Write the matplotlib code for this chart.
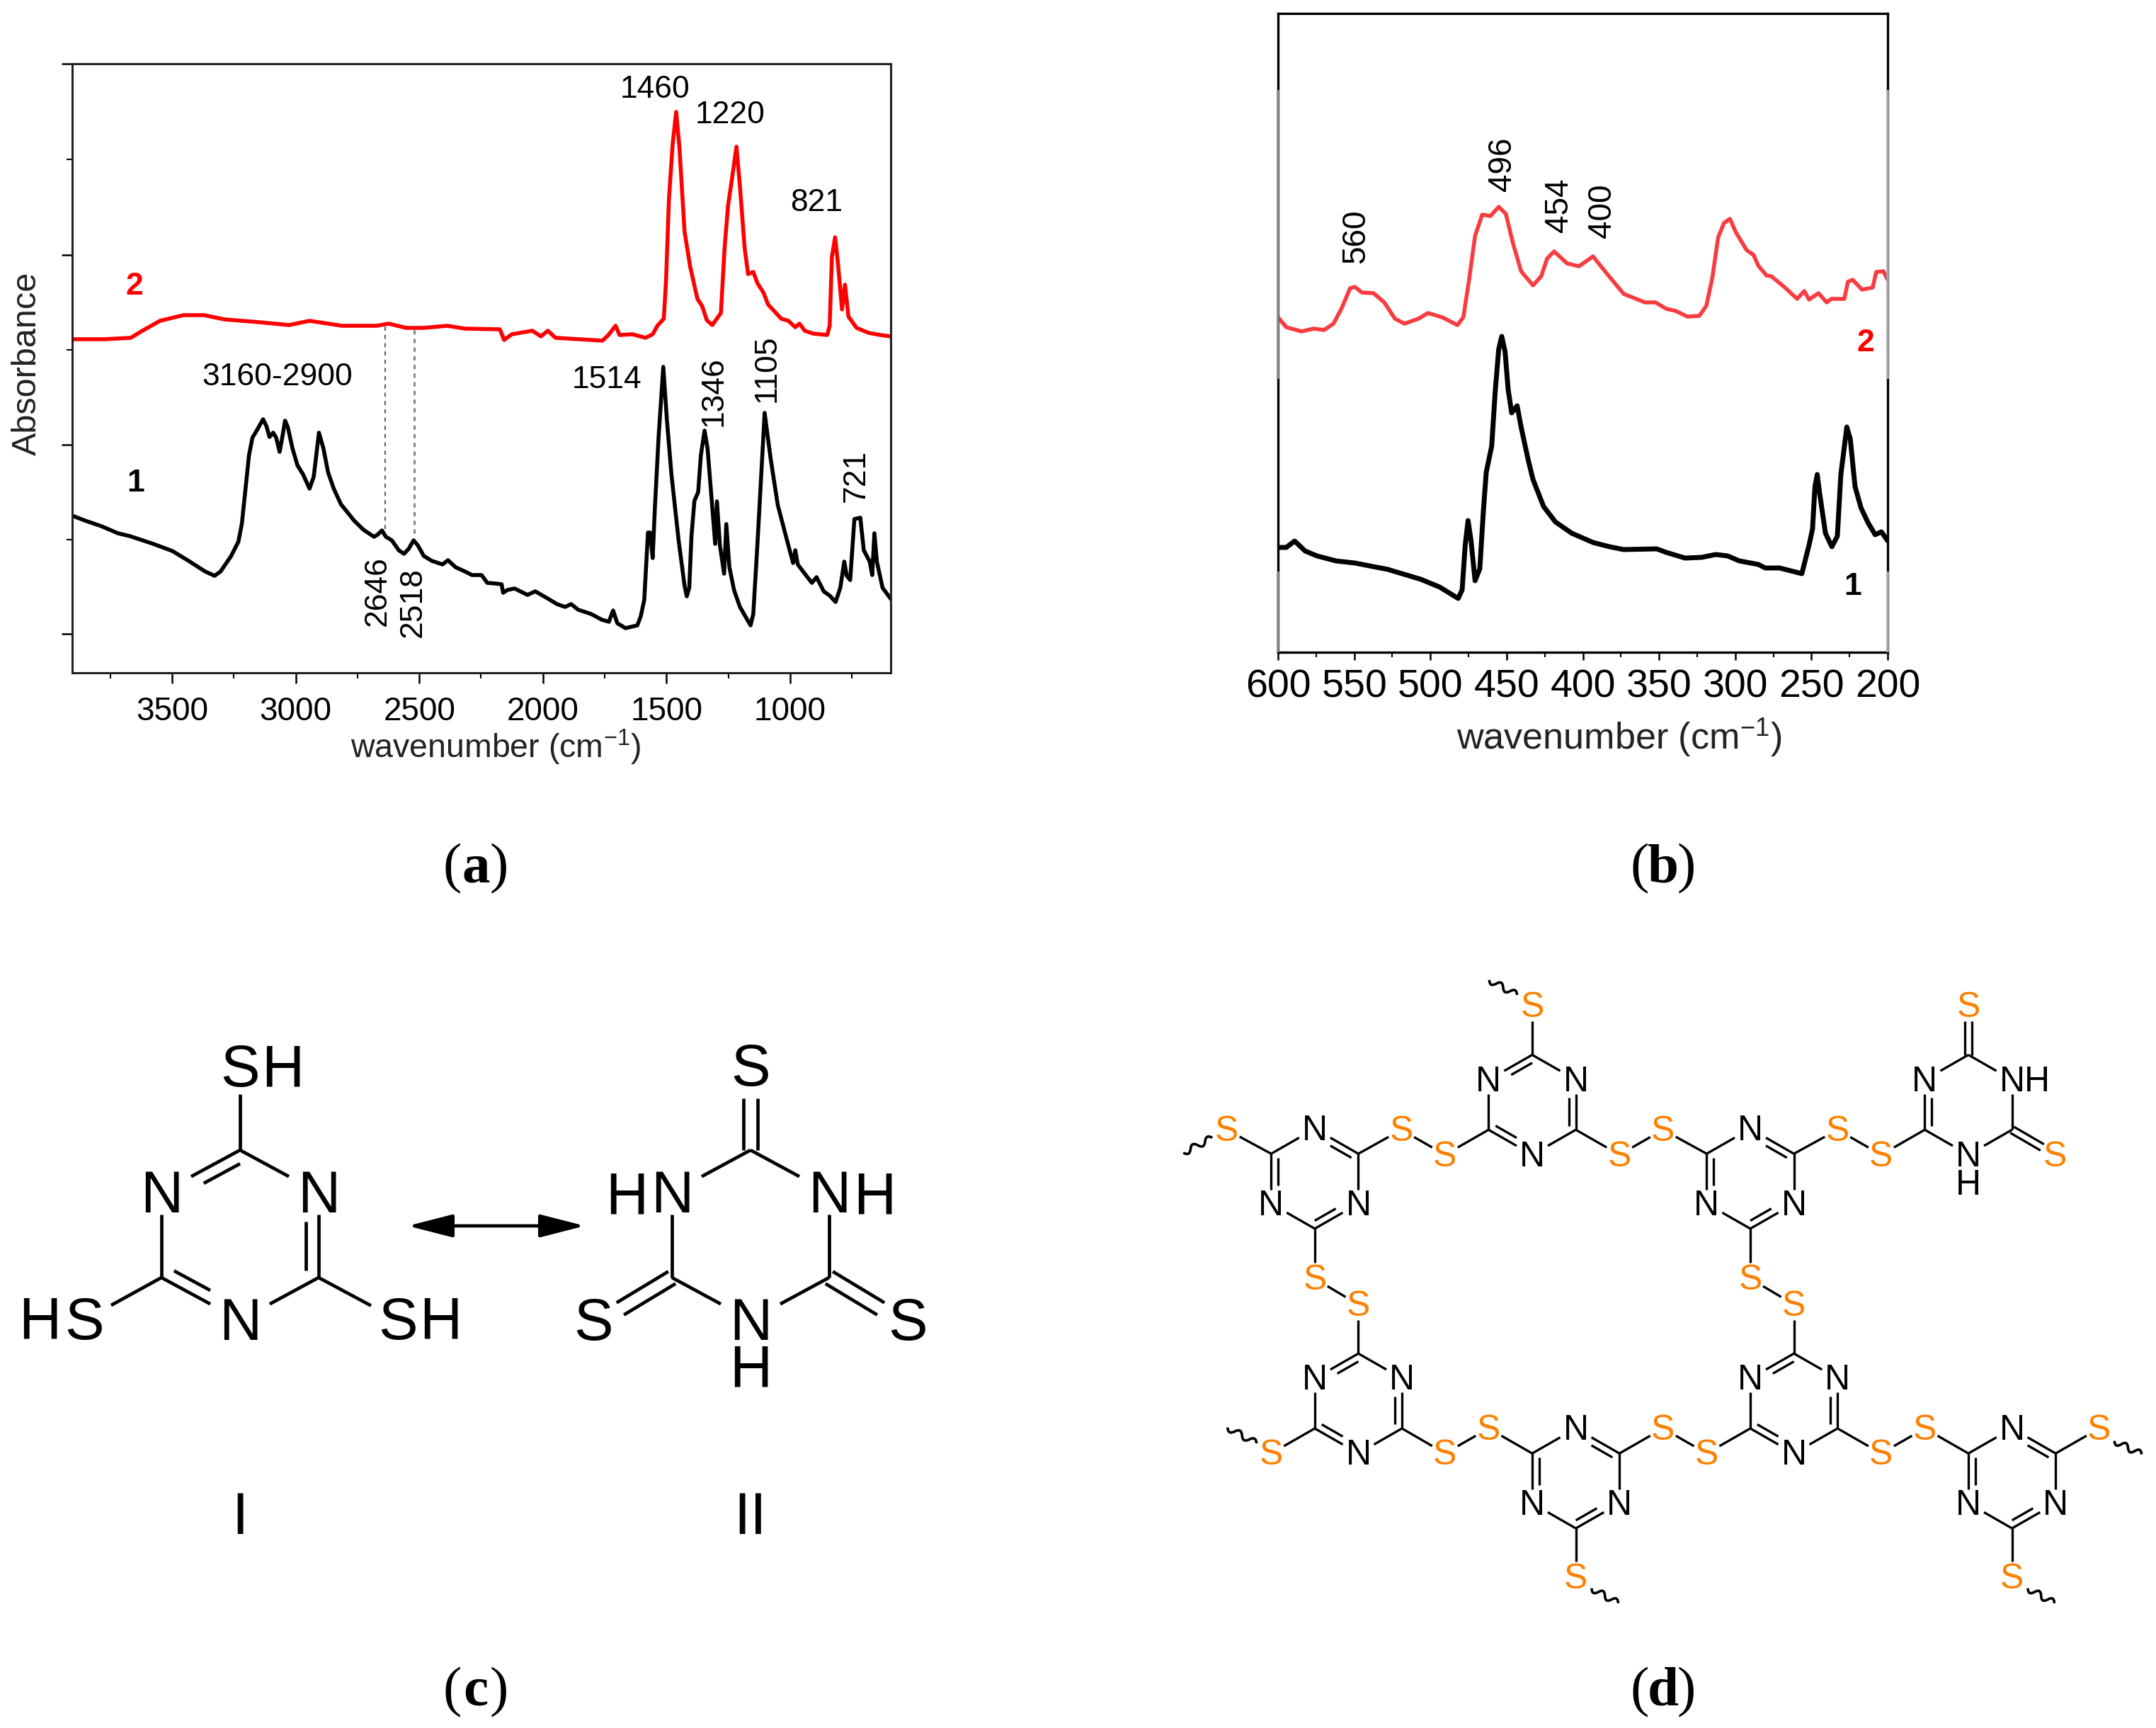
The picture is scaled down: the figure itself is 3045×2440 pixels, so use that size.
import numpy as np
import matplotlib
matplotlib.use("Agg")
from matplotlib import pyplot as plt
from matplotlib.path import Path
from matplotlib.patches import PathPatch

plt.rcParams['font.family'] = ['Liberation Sans', 'DejaVu Sans']
plt.rcParams['mathtext.fontset'] = 'custom'
plt.rcParams['mathtext.rm'] = 'Liberation Sans'
plt.rcParams['mathtext.default'] = 'regular'

# panel (a): IR spectra, wavenumber / absorbance (arb. units)
ir1_wn = [3905, 3853, 3786, 3719, 3671, 3576, 3499, 3433, 3366, 3328, 3304, 3261, 3232, 3218, 3205, 3189, 3175, 3156,
          3132, 3118, 3106, 3091, 3079, 3065, 3054, 3043, 3032, 3013, 2993, 2970, 2944, 2927, 2906, 2888, 2869, 2846,
          2817, 2764, 2726, 2683, 2669, 2651, 2635, 2611, 2583, 2562, 2543, 2523, 2506, 2482, 2449, 2406, 2384, 2353,
          2315, 2287, 2248, 2225, 2191, 2167, 2161, 2143, 2115, 2062, 2031, 1981, 1943, 1910, 1886, 1857, 1805, 1762,
          1733, 1716, 1699, 1666, 1618, 1604, 1590, 1580, 1575, 1566, 1556, 1547, 1532, 1513, 1499, 1480, 1451, 1427,
          1418, 1408, 1399, 1387, 1372, 1361, 1346, 1334, 1321, 1303, 1296, 1284, 1267, 1258, 1246, 1227, 1203, 1160,
          1149, 1132, 1103, 1079, 1050, 1017, 988, 979, 969, 941, 912, 893, 864, 840, 816, 797, 781, 771, 757, 740,
          716, 702, 678, 668, 659, 649, 626, 594]
ir1_abs = [222, 215, 207, 197, 193, 182, 172, 158, 143, 137, 143, 165, 185, 210, 253, 307, 332, 343,
           358, 348, 333, 339, 332, 312, 333, 356, 347, 317, 293, 280, 260, 277, 339, 317, 283, 260,
           238, 215, 202, 192, 195, 201, 192, 187, 173, 168, 175, 187, 180, 165, 158, 153, 159, 149,
           143, 138, 138, 127, 126, 125, 113, 117, 119, 110, 115, 105, 97, 93, 97, 89, 83, 75,
           72, 88, 70, 63, 67, 80, 103, 167, 198, 198, 162, 233, 333, 432, 360, 280, 187, 123,
           108, 120, 193, 243, 255, 307, 342, 317, 260, 182, 242, 180, 140, 210, 150, 117, 93, 67,
           83, 183, 367, 303, 237, 193, 155, 173, 153, 140, 127, 135, 115, 109, 100, 120, 157, 137, 131, 217,
           219, 173, 157, 138, 197, 157, 120, 105]
ir2_wn = [3904, 3774, 3667, 3620, 3549, 3454, 3371, 3288, 3146, 3027, 2944, 2813, 2672, 2624, 2553, 2482, 2387, 2316,
          2174, 2157, 2126, 2043, 2008, 1980, 1949, 1759, 1735, 1706, 1690, 1638, 1585, 1556, 1537, 1511, 1502, 1490,
          1475, 1461, 1448, 1427, 1404, 1375, 1356, 1337, 1315, 1280, 1265, 1251, 1237, 1217, 1203, 1184, 1170, 1149,
          1132, 1108, 1089, 1036, 1007, 979, 962, 941, 907, 850, 840, 831, 818, 807, 790, 778, 764, 731, 683, 635, 594]
ir2_abs = [471, 471, 473, 483, 497, 505, 505, 499, 495, 491, 497, 490, 490, 493, 487, 487, 490, 486,
           485, 470, 478, 483, 475, 483, 473, 469, 477, 490, 477, 478, 473, 478, 490, 500, 553, 670,
           747, 792, 743, 623, 573, 528, 518, 498, 491, 508, 600, 660, 693, 743, 687, 600, 563, 566,
           550, 537, 520, 500, 497, 488, 493, 483, 479, 477, 490, 587, 615, 580, 513, 548, 503, 487, 480, 477, 475]
ir_xticks = [3500, 3000, 2500, 2000, 1500, 1000]
ir_xminor = [3750, 3250, 2750, 2250, 1750, 1250, 750]
ir_yticks = [55, 322.5, 590, 860]
ir_yminor = [188.5, 456, 725]
ir_dash_wn = [2638, 2521]
ir_dash_top = [490, 490]
ir_dash_bottom = [203, 197]

# panel (b): Raman spectra
ra1_wn = [600, 594.6, 589.1, 582.2, 574.4, 562, 549.6, 528, 506.3, 493.9, 481.8, 479.2, 477.2, 475.3, 473.4, 470.7,
          467.6, 465.3, 463.4, 459.8, 457.5, 455.2, 453.2, 451, 449, 446.7, 443.1, 440.5, 435.8, 432.7, 425.8, 418,
          407.2, 393.3, 382.5, 373.2, 351.5, 345.3, 332.9, 322.1, 312.8, 305, 297.3, 284.9, 280.3, 270.9, 256.3,
          251.6, 249.3, 247.7, 246.2, 244.6, 240.8, 236.6, 233, 230.7, 226.8, 224.5, 221.4, 217.5, 212.9, 208.2,
          204.1, 200.5]
ra1_int = [177, 177, 186, 172, 165, 158, 155, 146, 132, 121, 105, 117, 180, 215, 187, 130,
           147, 227, 283, 320, 397, 457, 475, 453, 400, 367, 377, 347, 300, 273, 235, 213,
           197, 184, 178, 174, 175, 170, 162, 163, 167, 165, 158, 153, 148, 148, 140,
           180, 203, 263, 280, 253, 197, 178, 193, 280, 347, 330, 263, 233, 212, 195,
           199, 188]
ra2_wn = [600, 594.6, 584.5, 576.7, 569.8, 563.6, 558.2, 552.7, 549.6, 545, 537.3, 530.3, 523.3, 517.1, 507.8, 501.6,
          492.3, 482.3, 478.4, 474.5, 470.7, 466, 460.6, 455.2, 450.5, 445.9, 440.5, 432.7, 427.3, 423.4, 418.8,
          410.3, 402.5, 393.3, 384, 373.2, 359.2, 352.3, 345.3, 339.1, 331.4, 323.6, 319, 315.1, 311.2, 307.4, 303.5,
          299.6, 292.6, 288, 284.9, 279.5, 276.4, 267.9, 259.4, 254.7, 251.6, 245.4, 240, 236.9, 228.4, 226.1, 223,
          216.8, 209.8, 207.5, 202.8, 200.5]
ra2_int = [502, 488, 482, 486, 484, 493, 515, 543, 545, 537, 536, 523, 500, 493, 500, 508,
           502, 491, 502, 557, 617, 647, 645, 658, 648, 607, 567, 547, 560, 585, 595,
           578, 574, 588, 563, 535, 523, 523, 514, 511, 503, 504, 518, 557, 615, 635, 641,
           622, 597, 590, 575, 561, 560, 545, 528, 539, 527, 536, 523, 528, 528, 552, 555,
           541, 544, 566, 567, 557]
ra_xticks = [600, 550, 500, 450, 400, 350, 300, 250, 200]
ra_xminor = [575, 525, 475, 425, 375, 325, 275, 225]

W, H = 3045, 2440
fig = plt.figure(figsize=(W / 100, H / 100), dpi=100, facecolor='white')


def add_px_axes(x0, x1, y0, y1):
    return fig.add_axes([x0 / W, 1 - y1 / H, (x1 - x0) / W, (y1 - y0) / H])


# (a)
ax_a = add_px_axes(102, 1258, 90, 950)
ax_a.plot(ir1_wn, ir1_abs, color='black', lw=4.0, solid_joinstyle='round')
ax_a.plot(ir2_wn, ir2_abs, color='#ff0000', lw=4.0, solid_joinstyle='round')
ax_a.vlines(ir_dash_wn[0], ir_dash_bottom[0], ir_dash_top[0], color='#555555', lw=1.4, linestyles=(0, (3, 3)))
ax_a.vlines(ir_dash_wn[1], ir_dash_bottom[1], ir_dash_top[1], color='#888888', lw=2.2, linestyles=(0, (2, 2)))
ax_a.set_xlim(3904, 593)
ax_a.set_ylim(0, 860)
ax_a.set_xticks(ir_xticks)
ax_a.set_xticks(ir_xminor, minor=True)
ax_a.set_yticks(ir_yticks)
ax_a.set_yticks(ir_yminor, minor=True)
ax_a.set_yticklabels([])
ax_a.tick_params(axis='x', which='major', length=11, width=1.8, labelsize=33, pad=13)
ax_a.tick_params(axis='x', which='minor', length=6, width=1.5)
ax_a.tick_params(axis='y', which='major', length=11, width=1.8)
ax_a.tick_params(axis='y', which='minor', length=6, width=1.5)
for s in ax_a.spines.values():
    s.set_linewidth(2.2)
    s.set_color('#222222')

# (b)
ax_b = add_px_axes(1805, 2666, 19, 921)
ax_b.plot(ra1_wn, ra1_int, color='black', lw=5.0, solid_joinstyle='round')
ax_b.plot(ra2_wn, ra2_int, color='#f83c40', lw=4.0, solid_joinstyle='round')
ax_b.set_xlim(600, 200)
ax_b.set_ylim(29, 931)
ax_b.set_xticks(ra_xticks)
ax_b.set_xticks(ra_xminor, minor=True)
ax_b.set_yticks([])
ax_b.tick_params(axis='x', which='major', length=8, width=1.8, labelsize=40, pad=9)
ax_b.tick_params(axis='x', which='minor', length=5, width=1.5)
for s in ax_b.spines.values():
    s.set_linewidth(2.4)
# the scan has washed out pieces of the side frame
for lim in [(415, 823), (29, 143)]:
    ax_b.plot([600, 600], lim, color='#8a8a8a', lw=2.6, clip_on=False, solid_capstyle='butt', zorder=5)
    ax_b.plot([200, 200], lim, color='#a8a8a8', lw=2.6, clip_on=False, solid_capstyle='butt', zorder=5)

# overlay in pixel coordinates for the annotations and the structures
ov = fig.add_axes([0, 0, 1, 1], facecolor='none')
ov.set_xlim(0, W)
ov.set_ylim(H, 0)
ov.axis('off')


def label(x, y, s, size=32, rot=0, color='black', weight='normal', **kw):
    ov.text(x, y, s, fontsize=size, rotation=rot, color=color, fontweight=weight,
            ha='center', va='center', **kw)


# peak labels (a)
label(925, 126, '1460')
label(1031, 163, '1220')
label(1153, 286, '821')
label(392, 533, '3160-2900')
label(857, 537, '1514')
label(1008, 553, '1346', rot=90)
label(1083, 520, '1105', rot=90)
label(1209, 672, '721', rot=90)
label(533, 835, '2646', rot=90)
label(583, 851, '2518', rot=90)
label(190, 405, '2', size=32, color='#ff0000', weight='bold')
label(192, 682, '1', size=32, weight='bold')
label(38, 513, 'Absorbance', size=35, rot=90, color='#222222')
label(700, 1055, 'wavenumber (cm$^{-1}$)', size=33.5, color='#222222')

# peak labels (b)
label(1915, 334, '560', size=33, rot=90)
label(2122, 232, '496', size=33, rot=90)
label(2202, 290, '454', size=33, rot=90)
label(2263, 298, '400', size=33, rot=90)
label(2635, 485, '2', size=32, color='#ff0000', weight='bold')
label(2617, 828, '1', size=32, weight='bold')
label(2287, 1042, 'wavenumber (cm$^{-1}$)', size=37.5, color='#222222')


def panel_tag(x, y, letter):
    ov.text(x - 33, y, '(', fontsize=57, family='Liberation Serif', ha='center', va='baseline')
    ov.text(x, y, letter, fontsize=57, family='Liberation Serif', fontweight='bold', ha='center', va='baseline')
    ov.text(x + 33, y, ')', fontsize=57, family='Liberation Serif', ha='center', va='baseline')


panel_tag(672, 1245, 'a')
panel_tag(2349, 1245, 'b')
panel_tag(672, 2408, 'c')
panel_tag(2349, 2408, 'd')


def box_exit(p, q, hw, hh):
    # point where the segment p -> q leaves a label box centred on p
    d = np.array(q, float) - np.array(p, float)
    n = d / np.hypot(*d)
    t = min(hw / abs(n[0]) if n[0] else 1e9, hh / abs(n[1]) if n[1] else 1e9)
    return np.array(p, float) + n * t


def bond(p, q, boxp=None, boxq=None, lw=3.0, offset=0.0, color='black'):
    a = box_exit(p, q, *boxp) if boxp else np.array(p, float)
    b = box_exit(q, p, *boxq) if boxq else np.array(q, float)
    n = (b - a) / np.hypot(*(b - a))
    perp = np.array([-n[1], n[0]])
    a = a + perp * offset
    b = b + perp * offset
    ov.plot([a[0], b[0]], [a[1], b[1]], color=color, lw=lw, solid_capstyle='butt')


def ring_vertices(cx, cy, r, w):
    return [(cx, cy - r), (cx + w, cy - r / 2), (cx + w, cy + r / 2),
            (cx, cy + r), (cx - w, cy + r / 2), (cx - w, cy - r / 2)]


def ring(cx, cy, r, w, n_at, doubles, box, lw, size, text_dy=0):
    vs = ring_vertices(cx, cy, r, w)
    for i in range(6):
        j = (i + 1) % 6
        bond(vs[i], vs[j], box if i in n_at else None, box if j in n_at else None, lw=lw)
    for i, j in doubles:
        p, q = np.array(vs[i]), np.array(vs[j])
        c = np.array([cx, cy])
        inset = 0.16
        p2 = p + (c - p) * inset
        q2 = q + (c - q) * inset
        bond(p2, q2, box if i in n_at else None, box if j in n_at else None, lw=lw)
    for i in n_at:
        ov.text(vs[i][0], vs[i][1] + text_dy, 'N', fontsize=size, ha='center', va='center')
    return vs


# (c) tautomers
C_R, C_W = 120, 111
C_BOX = (42, 31)
C_SBOX = (38, 38)
C_SIZE = 60
vs1 = ring(339, 1744, C_R, C_W, [1, 3, 5], [(0, 5), (1, 2), (3, 4)], C_BOX, 3.4, C_SIZE, text_dy=6)
label(339, 1512, 'S', size=C_SIZE)
label(399, 1512, 'H', size=C_SIZE)
label(119, 1869, 'S', size=C_SIZE)
label(56, 1869, 'H', size=C_SIZE)
label(562, 1869, 'S', size=C_SIZE)
label(622, 1869, 'H', size=C_SIZE)
bond(vs1[0], (339, 1507), None, C_SBOX, lw=3.4)
bond(vs1[4], (119, 1864), None, C_SBOX, lw=3.4)
bond(vs1[2], (562, 1864), None, C_SBOX, lw=3.4)
label(339, 2144, 'I', size=C_SIZE)

vs2 = ring(1060, 1744, C_R, C_W, [1, 3, 5], [], C_BOX, 3.4, C_SIZE, text_dy=6)
label(1060, 1511, 'S', size=C_SIZE)
label(838, 1870, 'S', size=C_SIZE)
label(1282, 1870, 'S', size=C_SIZE)
label(885, 1692, 'H', size=C_SIZE)
label(1235, 1692, 'H', size=C_SIZE)
label(1060, 1937, 'H', size=C_SIZE)
for v, s in [(vs2[0], (1060, 1513)), (vs2[4], (838, 1871)), (vs2[2], (1282, 1871))]:
    bond(v, s, None, C_SBOX, lw=3.4, offset=10)
    bond(v, s, None, C_SBOX, lw=3.4, offset=-10)
label(1060, 2144, 'II', size=C_SIZE)
ov.annotate('', xy=(576, 1731), xytext=(826, 1731),
            arrowprops=dict(arrowstyle='<|-|>,head_length=0.78,head_width=0.2', color='black', lw=3.4,
                            mutation_scale=50, shrinkA=0, shrinkB=0))


# (d) polymer network, atoms given in local drawing units
def dp(x, y):
    return (1642.6 + x * 0.8928, 1340 + y / 1.418)


ORANGE = '#ff8000'
D_R, D_W = 100 / 1.418, 69 * 0.8928
D_BOX = (22, 20)
D_SBOX = (18, 22)
D_SIZE = 36
D_LW = 2.4
D_TYPE_A = ([1, 3, 5], [(0, 5), (1, 2), (3, 4)])
D_TYPE_B = ([0, 2, 4], [(0, 1), (2, 3), (4, 5)])

d_rings = [
    (584, 312, D_TYPE_A, [(0, (584, 114)), (4, (446, 412)), (2, (722, 412))]),
    (240, 460, D_TYPE_B, [(5, (101, 362)), (1, (377, 362)), (3, (240, 660))]),
    (929, 460, D_TYPE_B, [(5, (791, 362)), (1, (1067, 362)), (3, (929, 660))]),
    (309, 910, D_TYPE_A, [(0, (309, 712)), (4, (171, 1010)), (2, (446, 1010))]),
    (653, 1060, D_TYPE_B, [(5, (515, 960)), (1, (791, 960)), (3, (653, 1258))]),
    (998, 910, D_TYPE_A, [(0, (998, 712)), (4, (860, 1010)), (2, (1136, 1010))]),
    (1343, 1060, D_TYPE_B, [(5, (1205, 960)), (1, (1481, 960)), (3, (1343, 1258))]),
]
d_disulfide = [((377, 362), (446, 412)), ((722, 412), (791, 362)), ((1067, 362), (1136, 412)),
               ((240, 660), (309, 712)), ((929, 660), (998, 712)), ((446, 1010), (515, 960)),
               ((791, 960), (860, 1010)), ((1136, 1010), (1205, 960))]
d_squiggles = [((516, 62), (560, 92)), ((32, 408), (78, 378)), ((102, 958), (148, 990)),
               ((678, 1280), (720, 1310)), ((1368, 1280), (1410, 1310)), ((1505, 985), (1548, 1012))]


def s_label(x, y):
    ov.text(x, y + 3, 'S', fontsize=D_SIZE, color=ORANGE, ha='center', va='center')


for cx, cy, (n_at, dbl), links in d_rings:
    pc = dp(cx, cy)
    vs = ring(pc[0], pc[1], D_R, D_W, n_at, dbl, D_BOX, D_LW, D_SIZE, text_dy=3)
    for i, s in links:
        sp = dp(*s)
        bond(vs[i], sp, None, D_SBOX, lw=D_LW)
        s_label(*sp)

for a, b in d_disulfide:
    bond(dp(*a), dp(*b), D_SBOX, D_SBOX, lw=D_LW)

# terminal thione/thiol ring
pc = dp(1274, 312)
vs = ring(pc[0], pc[1], D_R, D_W, [1, 3, 5], [(4, 5)], D_BOX, D_LW, D_SIZE, text_dy=3)
hx, hy = dp(1382, 263)
label(hx, hy + 3, 'H', size=D_SIZE)
hx, hy = dp(1274, 470)
label(hx, hy + 3, 'H', size=D_SIZE)
for i, s in [(0, (1274, 114)), (2, (1411, 412))]:
    sp = dp(*s)
    bond(vs[i], sp, None, D_SBOX, lw=D_LW, offset=5)
    bond(vs[i], sp, None, D_SBOX, lw=D_LW, offset=-5)
    s_label(*sp)
bond(vs[4], dp(1136, 412), None, D_SBOX, lw=D_LW)
s_label(*dp(1136, 412))

for a, b in d_squiggles:
    pa, pb = np.array(dp(*a)), np.array(dp(*b))
    lobes = 4
    along = (pb - pa) / lobes
    perp = np.array([-along[1], along[0]]) / np.hypot(*along)
    verts = [tuple(pa)]
    codes = [Path.MOVETO]
    for k in range(lobes):
        mid = pa + along * (k + 0.5) + perp * (9 if k % 2 == 0 else -9)
        verts += [tuple(mid), tuple(pa + along * (k + 1))]
        codes += [Path.CURVE3, Path.CURVE3]
    ov.add_patch(PathPatch(Path(verts, codes), fc='none', ec='black', lw=2.6))

fig.savefig('out.png', dpi=100)
